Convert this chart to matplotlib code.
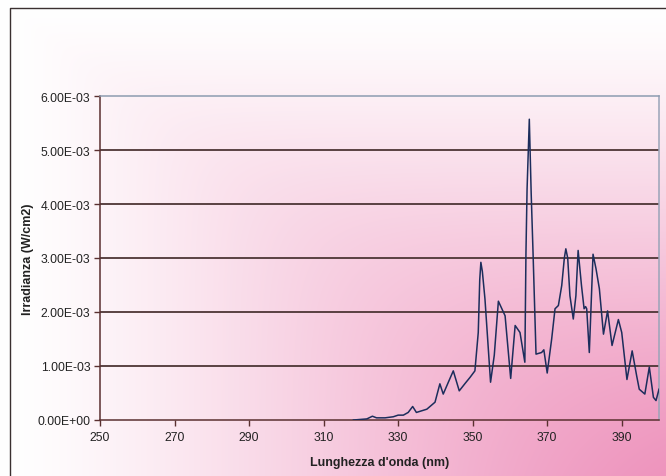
#! /usr/bin/env python

import numpy as np
import matplotlib as mpl
mpl.use("Agg")
from matplotlib import pyplot as plt

################
## Spectrum data (wavelength in nm, irradiance in W/cm2)

wavelength = [318.0, 321.6, 323.1, 324.2, 326.5, 328.7, 330.0, 331.4, 332.7, 333.9,
              334.9, 336.3, 337.7, 339.9, 341.2, 342.1, 343.6, 344.8, 346.4, 348.0,
              349.3, 350.6, 351.5, 351.9, 352.2, 352.6, 353.3, 354.8, 355.8, 356.9,
              358.7, 360.2, 361.4, 362.7, 364.0, 364.3, 364.6, 365.2, 365.7, 366.2,
              367.0, 368.5, 369.1, 370.0, 371.2, 372.1, 373.0, 373.9, 374.6, 375.0,
              375.5, 376.1, 377.0, 377.7, 378.3, 379.2, 379.9, 380.3, 380.6, 381.3,
              382.3, 383.1, 384.0, 385.1, 386.2, 387.4, 389.1, 390.0, 391.4, 392.8,
              394.0, 394.7, 396.2, 397.4, 398.5, 399.2, 400.0]
irradiance = [0.00, 0.02, 0.07, 0.04, 0.04, 0.06, 0.09, 0.09, 0.14, 0.25,
              0.14, 0.17, 0.20, 0.33, 0.67, 0.48, 0.72, 0.91, 0.54, 0.68,
              0.79, 0.91, 1.62, 2.60, 2.92, 2.75, 2.24, 0.70, 1.20, 2.20,
              1.93, 0.77, 1.75, 1.62, 1.07, 3.10, 4.28, 5.57, 4.20, 3.10,
              1.22, 1.25, 1.30, 0.87, 1.50, 2.06, 2.12, 2.49, 3.00, 3.17,
              3.00, 2.30, 1.87, 2.30, 3.14, 2.49, 2.06, 2.10, 2.06, 1.25,
              3.07, 2.80, 2.43, 1.59, 2.02, 1.38, 1.86, 1.62, 0.75, 1.28,
              0.82, 0.57, 0.48, 0.98, 0.42, 0.36, 0.57]
irradiance = np.array(irradiance) * 1e-3

xticks = [250, 270, 290, 310, 330, 350, 370, 390]
yticks = [0.0, 1e-3, 2e-3, 3e-3, 4e-3, 5e-3, 6e-3]

############
## Plotting

plt.rcParams["font.family"] = ["Liberation Sans", "DejaVu Sans"]

W, H = 666, 477
fig = plt.figure(figsize=(W/100., H/100.), dpi=100)

## Corner gradient behind the whole chart: white top-left to pink bottom-right
bg = fig.add_axes([0, 0, 1, 1], zorder=-10)
bg.set_axis_off()
yy, xx = np.mgrid[0:H, 0:W]
xf = np.clip((xx - 10) / (W - 10.), 1e-3, 1)
yf = np.clip((yy - 9) / (H - 9.), 1e-3, 1)
# soft minimum so the corner contours stay smooth
p = 5.0
t = (xf ** -p + yf ** -p) ** (-1. / p)
t = np.clip(t / t.max(), 0, 1) ** 1.25
white = np.array([1.0, 1.0, 1.0])
pink = np.array(mpl.colors.to_rgb("#ee94bd"))
img = white[None, None, :] * (1 - t[..., None]) + pink[None, None, :] * t[..., None]
bg.imshow(img, aspect="auto", extent=(0, W, H, 0))
bg.set_xlim(0, W)
bg.set_ylim(H, 0)
## Chart frame (runs off the bottom and right of the canvas)
bg.plot([10, 10, W + 5], [H + 5, 9, 9], color="#3a3030", linewidth=1.0, clip_on=False)

## Plot area
ax = fig.add_axes([100./W, 1 - 421./H, 559./W, 324./H])
ax.set_facecolor("none")
ax.set_xlim(250, 400)
ax.set_ylim(0, 6e-3)

for y in yticks[1:-1]:
    ax.axhline(y, color="#4d3535", linewidth=1.3, zorder=1)

ax.plot(wavelength, irradiance, color="#1c2d5c", linewidth=1.1, zorder=3)

ax.set_xticks(xticks)
ax.set_yticks(yticks)
ax.set_yticklabels(["%.2E" % y for y in yticks])
ax.tick_params(axis="both", direction="out", length=4, width=1.0,
               color="#5a3030", labelsize=8.7, labelcolor="#222222")
ax.tick_params(axis="x", pad=4)
ax.tick_params(axis="y", pad=3)

ax.spines["left"].set_color("#5a3030")
ax.spines["bottom"].set_color("#5a3030")
ax.spines["top"].set_color("#8d9cb0")
ax.spines["right"].set_color("#9aa4b8")
for s in ax.spines.values():
    s.set_linewidth(1.1)

ax.set_xlabel("Lunghezza d'onda (nm)", fontsize=9, fontweight="bold", color="#222222", labelpad=9)
ax.set_ylabel("Irradianza (W/cm2)", fontsize=9, fontweight="bold", color="#222222")
ax.yaxis.set_label_coords(-66./559, 0.5)

fig.savefig("out.png", dpi=100)
